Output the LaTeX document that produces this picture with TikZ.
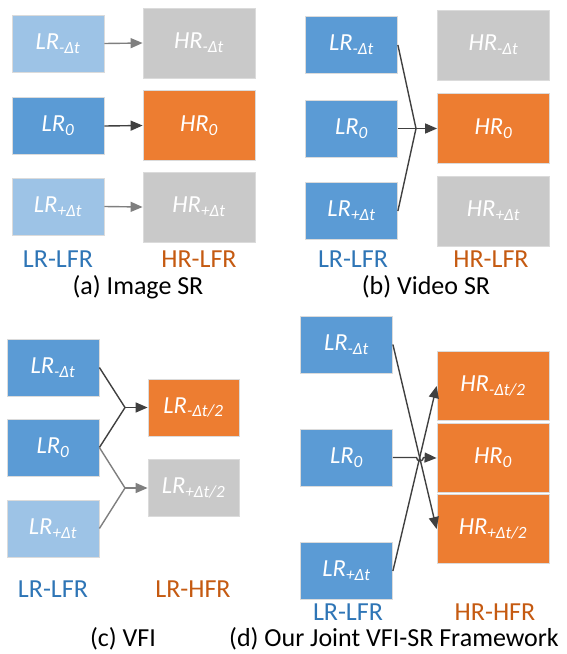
\documentclass[tikz,border=0pt]{standalone}
\usepackage{fontspec}
\setmainfont{Carlito}
\usetikzlibrary{arrows.meta}
\definecolor{lblue}{HTML}{9DC3E6}
\definecolor{mblue}{HTML}{5B9BD5}
\definecolor{orng}{HTML}{ED7D31}
\definecolor{gry}{HTML}{C9C9C9}
\definecolor{tblue}{HTML}{2E75B6}
\definecolor{torng}{HTML}{C55A11}
\definecolor{darr}{HTML}{404040}
\definecolor{garr}{HTML}{7F7F7F}
\newcommand{\bx}[2]{\textit{#1}\textsubscript{\textit{#2}}}
\begin{document}
\begin{tikzpicture}[x=1pt,y=-1pt,
  box/.style={rectangle,inner sep=0pt,draw=black!14,line width=0.8pt,text=white,font=\fontsize{24.5}{28}\selectfont},
  lrbox/.style={box,minimum width=92pt,minimum height=57pt},
  hrbox/.style={box,minimum width=112pt,minimum height=70pt},
  hrboxd/.style={box,minimum width=112pt,minimum height=69pt},
  smbox/.style={box,minimum width=91pt,minimum height=57pt},
  lab/.style={anchor=base,font=\fontsize{26}{30}\selectfont},
  captxt/.style={anchor=base,font=\fontsize{26}{30}\selectfont},
  darrow/.style={draw=darr,line width=1.4pt,-{Triangle[length=12pt,width=10pt]}},
  garrow/.style={draw=garr,line width=1.4pt,-{Triangle[length=12pt,width=10pt]}},
  dline/.style={draw=darr,line width=1.4pt},
  gline/.style={draw=garr,line width=1.4pt}]
\useasboundingbox (0,0) rectangle (566,654);
% (a)
\node[lrbox,fill=lblue] (LRa1) at (58,43.5) {\bx{LR}{-Δt}};
\node[lrbox,fill=mblue] (LRa2) at (58,126) {\bx{LR}{0}};
\node[lrbox,fill=lblue] (LRa3) at (58,206.5) {\bx{LR}{+Δt}};
\node[hrbox,fill=gry] (HRa1) at (199,43) {\bx{HR}{-Δt}};
\node[hrbox,fill=orng] (HRa2) at (199,125.5) {\bx{HR}{0}};
\node[hrbox,fill=gry] (HRa3) at (199,207) {\bx{HR}{+Δt}};
\draw[garrow] (LRa1.east) -- (HRa1.west);
\draw[darrow] (LRa2.east) -- (HRa2.west);
\draw[garrow] (LRa3.east) -- (HRa3.west);
\node[lab,text=tblue] (la1) at (58,267) {LR-LFR};
\node[lab,text=torng] (la2) at (199,267) {HR-LFR};
\node[captxt] (ca) at (138,294) {(a) Image SR};
% (b)
\node[lrbox,fill=mblue] (LRb1) at (351.5,45) {\bx{LR}{-Δt}};
\node[lrbox,fill=mblue] (LRb2) at (351.5,128.5) {\bx{LR}{0}};
\node[lrbox,fill=mblue] (LRb3) at (351.5,211) {\bx{LR}{+Δt}};
\node[hrbox,fill=gry] (HRb1) at (493.5,45) {\bx{HR}{-Δt}};
\node[hrbox,fill=orng] (HRb2) at (493.5,128.5) {\bx{HR}{0}};
\node[hrbox,fill=gry] (HRb3) at (493.5,211) {\bx{HR}{+Δt}};
\coordinate (jb) at (416,128.5);
\draw[dline] (LRb1.east) -- (jb);
\draw[dline] (LRb3.east) -- (jb);
\draw[dline] (LRb2.east) -- (jb);
\draw[darrow] (jb) -- (HRb2.west);
\node[lab,text=tblue] (lb1) at (353,267) {LR-LFR};
\node[lab,text=torng] (lb2) at (491,267) {HR-LFR};
\node[captxt] (cb) at (426,294) {(b) Video SR};
% (c)
\node[lrbox,fill=mblue] (LRc1) at (53,367.5) {\bx{LR}{-Δt}};
\node[lrbox,fill=mblue] (LRc2) at (53,447.5) {\bx{LR}{0}};
\node[lrbox,fill=lblue] (LRc3) at (53,528.5) {\bx{LR}{+Δt}};
\node[smbox,fill=orng] (LRc4) at (193.5,407.5) {\bx{LR}{-Δt/2}};
\node[smbox,fill=gry] (LRc5) at (193.5,488) {\bx{LR}{+Δt/2}};
\coordinate (jc1) at (125,407.5);
\coordinate (jc2) at (125,488);
\draw[dline] (LRc1.east) -- (jc1);
\draw[dline] (LRc2.east) -- (jc1);
\draw[darrow] (jc1) -- (LRc4.west);
\draw[gline] (LRc2.east) -- (jc2);
\draw[gline] (LRc3.east) -- (jc2);
\draw[garrow] (jc2) -- (LRc5.west);
\node[lab,text=tblue] (lc1) at (53,597) {LR-LFR};
\node[lab,text=torng] (lc2) at (193,597) {LR-HFR};
\node[captxt] (cc) at (123,646.5) {(c) VFI};
% (d)
\node[lrbox,fill=mblue] (LRd1) at (346.5,344.5) {\bx{LR}{-Δt}};
\node[lrbox,fill=mblue] (LRd2) at (346.5,457.5) {\bx{LR}{0}};
\node[lrbox,fill=mblue] (LRd3) at (346.5,571) {\bx{LR}{+Δt}};
\node[hrboxd,fill=orng] (HRd1) at (493,386) {\bx{HR}{-Δt/2}};
\node[hrboxd,fill=orng] (HRd2) at (493,458) {\bx{HR}{0}};
\node[hrboxd,fill=orng] (HRd3) at (493,529) {\bx{HR}{+Δt/2}};
\draw[darrow] (LRd1.east) -- (HRd3.west);
\draw[darrow] (LRd3.east) -- (HRd1.west);
\coordinate (hop) at (416.5,457.5);
\draw[darrow] (LRd2.east) -- (hop) arc[start angle=180,end angle=360,radius=3.5pt] -- (HRd2.west);
\node[lab,text=tblue] (ld1) at (348,620) {LR-LFR};
\node[lab,text=torng] (ld2) at (495,620) {HR-HFR};
\node[captxt] (cd) at (394,646.5) {(d) Our Joint VFI-SR Framework};
\end{tikzpicture}
\end{document}
